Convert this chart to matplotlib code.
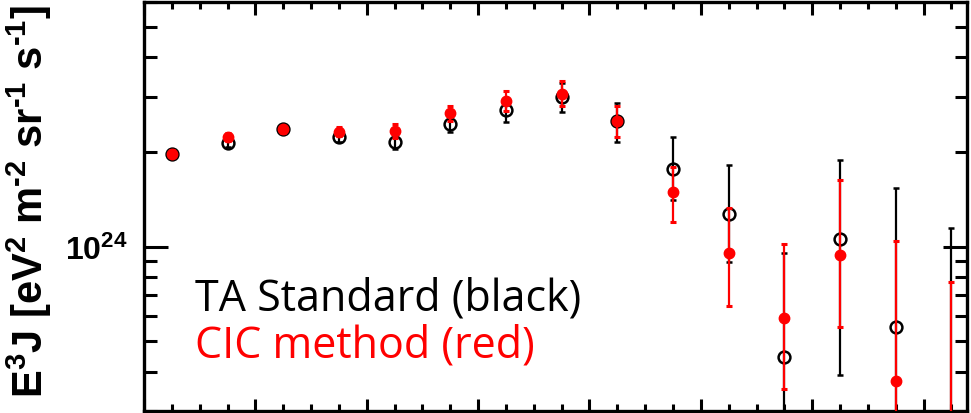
import numpy as np
import matplotlib.pyplot as plt
from matplotlib.ticker import MultipleLocator, LogLocator, FixedLocator, FixedFormatter, NullFormatter

plt.rcParams['mathtext.fontset'] = 'custom'
plt.rcParams['mathtext.rm'] = 'Liberation Sans:bold'
plt.rcParams['mathtext.bf'] = 'Liberation Sans:bold'
plt.rcParams['mathtext.default'] = 'bf'

# log10(E/eV) bin centres
log_e = [18.85, 18.95, 19.05, 19.15, 19.25, 19.35, 19.45, 19.55,
         19.65, 19.75, 19.85, 19.95, 20.05, 20.15, 20.25]

# E^3 J in units of 1e24 eV^2 m^-2 sr^-1 s^-1
ta_val = [1.973, 2.134, 2.360, 2.230, 2.159, 2.458, 2.729, 2.987,
          2.506, 1.760, 1.266, 0.447, 1.060, 0.556, 0.270]
ta_lo = [1.931, 2.077, 2.301, 2.159, 2.037, 2.313, 2.499, 2.689,
         2.159, 1.403, 0.894, 0.245, 0.390, 0.250, 0.120]
ta_hi = [2.018, 2.194, 2.422, 2.301, 2.284, 2.606, 2.972, 3.316,
         2.865, 2.239, 1.812, 0.955, 1.889, 1.536, 1.149]

cic_val = [1.973, 2.230, 2.360, 2.313, 2.340, 2.664, 2.914, 3.060,
           2.506, 1.492, 0.955, 0.595, 0.943, 0.375, 0.200]
cic_lo = [1.925, 2.170, 2.301, 2.251, 2.218, 2.512, 2.708, 2.810,
          2.230, 1.198, 0.648, 0.352, 0.556, 0.200, 0.080]
cic_hi = [2.024, 2.301, 2.422, 2.399, 2.458, 2.810, 3.134, 3.373,
          2.810, 1.791, 1.330, 1.022, 1.632, 1.043, 0.769]

scale = 1e24
ta_val = np.array(ta_val) * scale
ta_err = [ta_val - np.array(ta_lo) * scale, np.array(ta_hi) * scale - ta_val]
cic_val = np.array(cic_val) * scale
cic_err = [cic_val - np.array(cic_lo) * scale, np.array(cic_hi) * scale - cic_val]

fig = plt.figure(figsize=(9.71, 4.14), dpi=100)
ax = fig.add_axes([144/971, 2/414, 823/971, 409/414])

ax.errorbar(log_e, ta_val, yerr=ta_err, fmt='o', mfc='none', mec='black',
            mew=1.8, ms=8.5, ecolor='black', elinewidth=1.6, capsize=2.2,
            capthick=2.2, zorder=2)
ax.errorbar(log_e, cic_val, yerr=cic_err, fmt='o', mfc='red', mec='red',
            ms=7.5, ecolor='red', elinewidth=1.6, capsize=2.2,
            capthick=2.2, zorder=3)

ax.set_yscale('log')
ax.set_xlim(18.80, 20.278)
ax.set_ylim(3e23, 6e24)

ax.xaxis.set_major_locator(MultipleLocator(0.2))
ax.xaxis.set_minor_locator(MultipleLocator(0.05))
ax.yaxis.set_major_locator(FixedLocator([1e24]))
ax.yaxis.set_major_formatter(FixedFormatter([r'$10^{24}$']))
ax.yaxis.set_minor_locator(LogLocator(base=10, subs=np.arange(2, 10)))
ax.yaxis.set_minor_formatter(NullFormatter())

ax.tick_params(which='both', direction='in', top=True, right=True,
               labelbottom=False, width=2.2, colors='black')
ax.tick_params(axis='y', which='major', length=17, pad=12, labelsize=23)
ax.tick_params(axis='y', which='minor', length=9)
ax.tick_params(axis='x', which='major', length=9)
ax.tick_params(axis='x', which='minor', length=5)
for s in ax.spines.values():
    s.set_linewidth(2.4)

ax.text(0.062, 0.2475, 'TA Standard (black)', transform=ax.transAxes,
        fontsize=31, family='Open Sans', color='black', va='baseline')
ax.text(0.062, 0.133, 'CIC method (red)', transform=ax.transAxes,
        fontsize=31, family='Open Sans', color='red', va='baseline')

fig.text(29/971, 1 - 202/414,
         r'E$^3$J [eV$^2$ m$^{\text{-}2}$ sr$^{\text{-}1}$ s$^{\text{-}1}$]',
         rotation=90, ha='center', va='center', fontsize=30,
         family='Liberation Sans', fontweight='bold')

fig.savefig('out.png', dpi=100)
